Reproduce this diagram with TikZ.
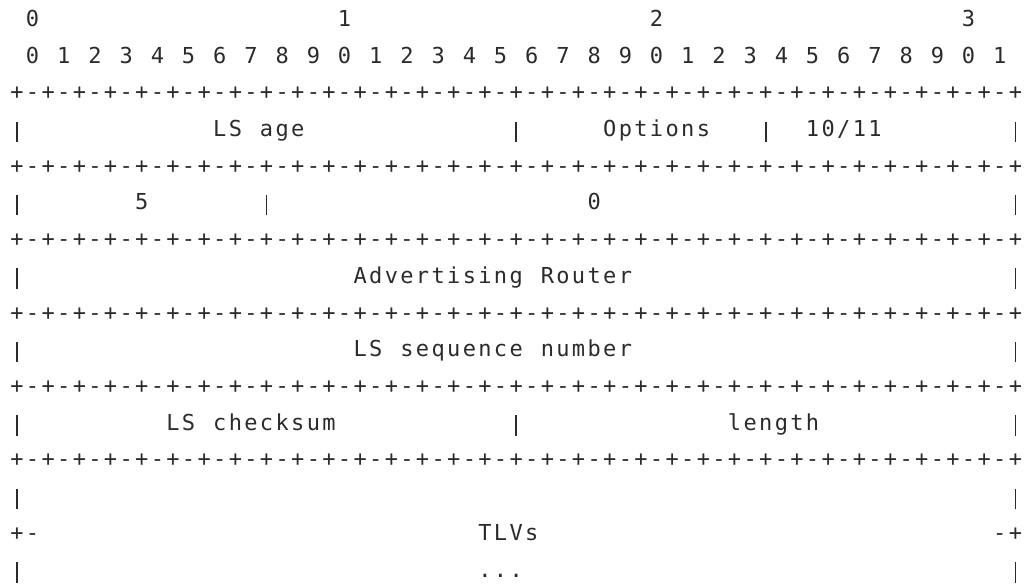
\documentclass[tikz,border=0pt]{standalone}
\usepackage{fontspec}
\setmonofont{DejaVu Sans Mono}
\definecolor{ink}{HTML}{2B2B2B}
\tikzset{ch/.style={anchor=base, inner sep=0pt, outer sep=0pt, text=ink,
  font=\ttfamily\fontsize{22}{26}\selectfont}}

\ExplSyntaxOn
\int_new:N \l_gr_col_int
\tl_new:N \l_gr_x_tl
\tl_new:N \l_gr_y_tl
\cs_new_protected:Npn \gr_put:nnn #1#2#3
 {
   \tl_set:Nx \l_gr_x_tl { \fp_eval:n { 17 + 15.6 * (#2) } }
   \tl_set:Nx \l_gr_y_tl { \fp_eval:n { -(26.5 + 36.7 * (#1)) } }
   \node[ch]~(c-#1-#2)~at~(\l_gr_x_tl pt,\l_gr_y_tl pt)~{#3};
 }
\cs_generate_variant:Nn \gr_put:nnn {nVn}
\NewDocumentCommand \gridtext { m m m }
 {
   \int_set:Nn \l_gr_col_int {#2}
   \str_map_inline:nn {#3}
     {
       \str_if_eq:nnF {##1} {~}
         { \gr_put:nVn {#1} \l_gr_col_int {##1} }
       \int_incr:N \l_gr_col_int
     }
 }
\NewDocumentCommand \vbar { m m }
 {
   \gr_put:nnn {#1} {#2} { \rule[-5.5pt]{1.5pt}{20.5pt} }
 }
\NewDocumentCommand \ruler { m }
 {
   \int_step_inline:nnn {0} {64}
     {
       \int_if_even:nTF {##1}
         { \gr_put:nnn {#1} {##1} {+} }
         { \gr_put:nnn {#1} {##1} {-} }
     }
 }
\ExplSyntaxOff

\begin{document}
\begin{tikzpicture}[x=1pt,y=1pt]
\useasboundingbox (0,0) rectangle (1026,-585);
% header
\gridtext{0}{1}{0}
\gridtext{0}{21}{1}
\gridtext{0}{41}{2}
\gridtext{0}{61}{3}
\gridtext{1}{1}{0 1 2 3 4 5 6 7 8 9 0 1 2 3 4 5 6 7 8 9 0 1 2 3 4 5 6 7 8 9 0 1}
\ruler{2}
% row 3
\vbar{3}{0}
\gridtext{3}{13}{LS age}
\vbar{3}{32}
\gridtext{3}{38}{Options}
\vbar{3}{48}
\gridtext{3}{51}{10/11}
\vbar{3}{64}
\ruler{4}
% row 5
\vbar{5}{0}
\gridtext{5}{8}{5}
\vbar{5}{16}
\gridtext{5}{37}{0}
\vbar{5}{64}
\ruler{6}
% row 7
\vbar{7}{0}
\gridtext{7}{22}{Advertising Router}
\vbar{7}{64}
\ruler{8}
% row 9
\vbar{9}{0}
\gridtext{9}{22}{LS sequence number}
\vbar{9}{64}
\ruler{10}
% row 11
\vbar{11}{0}
\gridtext{11}{10}{LS checksum}
\vbar{11}{32}
\gridtext{11}{46}{length}
\vbar{11}{64}
\ruler{12}
% rows 13-15
\vbar{13}{0}
\vbar{13}{64}
\gridtext{14}{0}{+-}
\gridtext{14}{30}{TLVs}
\gridtext{14}{63}{-+}
\vbar{15}{0}
\gridtext{15}{30}{...}
\vbar{15}{64}
\end{tikzpicture}
\end{document}
